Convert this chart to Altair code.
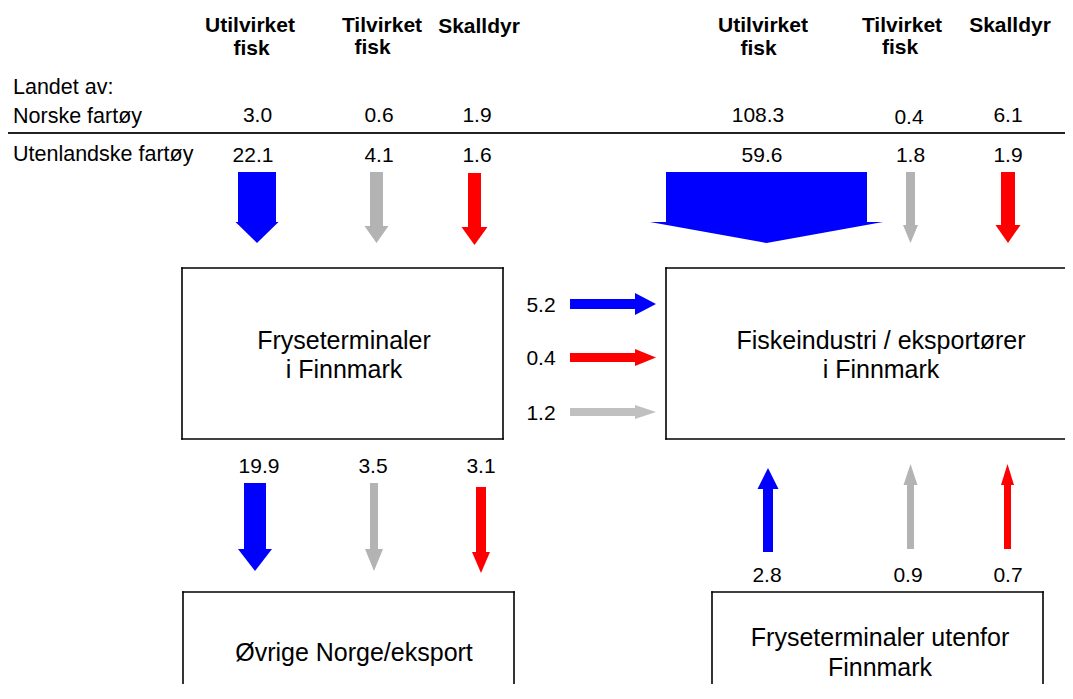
import altair as alt
import pandas as pd

# ---------------- data ----------------
categories = ["Utilvirket fisk", "Tilvirket fisk", "Skalldyr"]
cat_colors = ["#0000FF", "#B3B3B3", "#FF0000"]
row_labels = ["Landet av:", "Norske fartøy", "Utenlandske fartøy"]

norske_til_terminal = [3.0, 0.6, 1.9]
utenlandske_til_terminal = [22.1, 4.1, 1.6]
norske_til_industri = [108.3, 0.4, 6.1]
utenlandske_til_industri = [59.6, 1.8, 1.9]
terminal_til_industri = [5.2, 1.2, 0.4]
terminal_til_ovrige = [19.9, 3.5, 3.1]
utenfor_til_industri = [2.8, 0.9, 0.7]

box_names = ["Fryseterminaler\ni Finnmark",
             "Fiskeindustri / eksportører\ni Finnmark",
             "Øvrige Norge/eksport",
             "Fryseterminaler utenfor\nFinnmark"]

# ---------------- layout (diagram geometry, screen pixels) ----------------
X0, X1, Y0, Y1 = 8, 1065, 8, 684
left_cols = [257, 376.5, 474.5]
right_cols = [766.5, 910.5, 1008]
# boxes: (left, right, top, bottom); None = side runs off the picture
boxes_geo = [(182, 503, 268, 439), (666, None, 268, 439), (183, 514, 592, None), (712, 1043, 592, None)]
box_text_pos = [(344, [349, 378]), (881, [349, 378]), (354, [661]), (880, [646, 676])]

# vertical arrows: (group, centres, start, headbase, tip, shaft half width, head half width)
v_arrows = [
    ("tl", left_cols, [172, 172, 173], [222, 226, 227], [243, 243, 245], [19, 6.5, 6.5], [21.5, 12, 13]),
    ("tr", right_cols, [172, 172, 172], [222, 225, 225], [243, 243, 243], [100.5, 4.5, 7], [116.5, 7.5, 12.5]),
    ("bl", [255, 374, 481], [483, 483, 487], [549, 549, 552], [571, 571, 573], [11, 4, 5], [17, 9, 9]),
    ("br", [768, 910.5, 1007.5], [552, 549, 549], [489, 485, 485], [468, 464, 464], [5, 3.5, 3.5], [10.5, 7, 6.5]),
]
h_rows = [304, 412, 357.5]
h_start, h_head, h_tip = 570, 635, 656
h_shaft = [5, 4, 4.5]
h_headw = [11, 7, 8.5]
h_colors = ["#0000FF", "#C0C0C0", "#FF0000"]

# ---------------- build tables ----------------
shafts, vheads, hheads = [], [], []
for grp, cs, st, hb, tp, sh, hh in v_arrows:
    for i in range(3):
        c = cs[i]
        d = 1 if tp[i] > st[i] else -1
        shafts.append(dict(x=c - sh[i], x2=c + sh[i], y=st[i], y2=hb[i] + 0.6 * d, color=cat_colors[i]))
        aid = f"{grp}{i}"
        vheads += [
            dict(id=aid, x=c - hh[i], y=hb[i], y2=hb[i], color=cat_colors[i]),
            dict(id=aid, x=c, y=hb[i], y2=tp[i], color=cat_colors[i]),
            dict(id=aid, x=c + hh[i], y=hb[i], y2=hb[i], color=cat_colors[i]),
        ]
for i in range(3):
    cy = h_rows[i]
    shafts.append(dict(x=h_start, x2=h_head + 0.6, y=cy - h_shaft[i], y2=cy + h_shaft[i], color=h_colors[i]))
    aid = f"h{i}"
    hheads += [
        dict(id=aid, y=cy - h_headw[i], x=h_head, x2=h_head, color=h_colors[i]),
        dict(id=aid, y=cy, x=h_head, x2=h_tip, color=h_colors[i]),
        dict(id=aid, y=cy + h_headw[i], x=h_head, x2=h_head, color=h_colors[i]),
    ]

# headers
headers = []
hdr_pos = {
    "left": [(250, 251.5, 32, 55), (382, 372.5, 32, 54), (479, None, 33, None)],
    "right": [(763, 758.5, 32, 55), (902, 900, 32, 54), (1010, None, 32, None)],
}
for side in ["left", "right"]:
    for i, name in enumerate(categories):
        parts = name.split(" ")
        xa, xb, ya, yb = hdr_pos[side][i]
        if len(parts) == 2 and xb is not None:
            headers.append(dict(x=xa, y=ya, text=parts[0]))
            headers.append(dict(x=xb, y=yb, text=parts[1]))
        else:
            headers.append(dict(x=xa, y=ya, text=name))

rows = [dict(x=13, y=yy, text=t) for t, yy in zip(row_labels, [94, 123, 161])]

fmt = lambda v: f"{v:.1f}"
nums = []
for i in range(3):
    nums.append(dict(x=[257.5, 379, 477][i], y=122, text=fmt(norske_til_terminal[i])))
    nums.append(dict(x=[253, 379, 477][i], y=162, text=fmt(utenlandske_til_terminal[i])))
    nums.append(dict(x=[758, 909, 1008][i], y=[122, 124, 122][i], text=fmt(norske_til_industri[i])))
    nums.append(dict(x=[762, 910.5, 1008][i], y=162, text=fmt(utenlandske_til_industri[i])))
    nums.append(dict(x=541, y=[312, 420, 365][i], text=fmt(terminal_til_industri[i])))
    nums.append(dict(x=[259, 373, 481][i], y=473, text=fmt(terminal_til_ovrige[i])))
    nums.append(dict(x=[767, 908, 1008][i], y=582, text=fmt(utenfor_til_industri[i])))

# box outlines as rules (sides that leave the picture are not drawn)
box_lines = []
for l, r, t, b in boxes_geo:
    rr = r if r is not None else X1 + 5
    bb = b if b is not None else Y1 + 5
    box_lines.append(dict(x=l, x2=rr, y=t, y2=t))
    box_lines.append(dict(x=l, x2=l, y=t, y2=bb))
    if r is not None:
        box_lines.append(dict(x=r, x2=r, y=t, y2=bb))
    if b is not None:
        box_lines.append(dict(x=l, x2=rr, y=b, y2=b))

box_texts = []
for name, (bx, ys_) in zip(box_names, box_text_pos):
    for line, yy in zip(name.split("\n"), ys_):
        box_texts.append(dict(x=bx, y=yy, text=line))

# ---------------- chart ----------------
xs = alt.Scale(domain=[X0, X1], nice=False, zero=False)
ys = alt.Scale(domain=[Y0, Y1], nice=False, zero=False, reverse=True)
X = lambda f="x": alt.X(f"{f}:Q", scale=xs, axis=None)
Y = lambda f="y": alt.Y(f"{f}:Q", scale=ys, axis=None)
FONT = "Liberation Sans"

box_layer = alt.Chart(pd.DataFrame(box_lines)).mark_rule(
    color="black", strokeWidth=1.6, strokeCap="square", clip=True
).encode(x=X(), x2="x2:Q", y=Y(), y2="y2:Q")

line_layer = alt.Chart(pd.DataFrame([dict(x=X0, x2=X1, y=133)])).mark_rule(
    color="#222222", strokeWidth=2
).encode(x=X(), x2="x2:Q", y=Y())

shaft_layer = alt.Chart(pd.DataFrame(shafts)).mark_rect().encode(
    x=X(), x2="x2:Q", y=Y(), y2="y2:Q", color=alt.Color("color:N", scale=None)
)
vhead_layer = alt.Chart(pd.DataFrame(vheads)).mark_area(orient="vertical").encode(
    x=X(), y=Y(), y2="y2:Q", detail="id:N", color=alt.Color("color:N", scale=None)
)
hhead_layer = alt.Chart(pd.DataFrame(hheads)).mark_area(orient="horizontal").encode(
    y=Y(), x=X(), x2="x2:Q", detail="id:N", color=alt.Color("color:N", scale=None)
)

header_layer = alt.Chart(pd.DataFrame(headers)).mark_text(
    font=FONT, fontSize=21, fontWeight="bold", align="center", baseline="alphabetic", color="black"
).encode(x=X(), y=Y(), text="text:N")
row_layer = alt.Chart(pd.DataFrame(rows)).mark_text(
    font=FONT, fontSize=21.5, align="left", baseline="alphabetic", color="black"
).encode(x=X(), y=Y(), text="text:N")
num_layer = alt.Chart(pd.DataFrame(nums)).mark_text(
    font=FONT, fontSize=21, align="center", baseline="alphabetic", color="black"
).encode(x=X(), y=Y(), text="text:N")
boxtext_layer = alt.Chart(pd.DataFrame(box_texts)).mark_text(
    font=FONT, fontSize=25, align="center", baseline="alphabetic", color="black"
).encode(x=X(), y=Y(), text="text:N")

chart = alt.layer(
    box_layer, line_layer, shaft_layer, vhead_layer, hhead_layer,
    header_layer, row_layer, num_layer, boxtext_layer
).properties(
    width=X1 - X0, height=Y1 - Y0, padding=0, autosize="none"
).configure_view(stroke=None)

chart.save("out.html", embed_options={"renderer": "svg", "actions": False})
